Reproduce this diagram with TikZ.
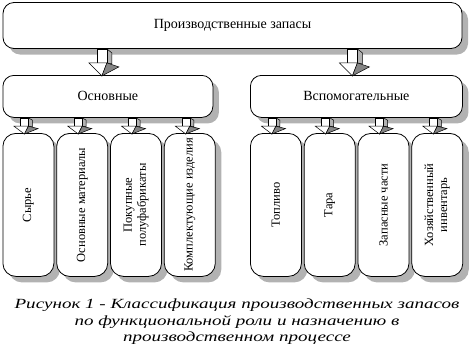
\documentclass[tikz,border=0pt]{standalone}
\usepackage{fontspec}
\setmainfont{Liberation Serif}
\usepackage{tikz}
\usetikzlibrary{positioning, shadows, calc}
\definecolor{ten}{RGB}{178,178,178}

\begin{document}
\begin{tikzpicture}[
  x=1pt, y=-1pt,
  blok/.style={
    rectangle, draw=black, fill=white, line width=0.8pt,
    rounded corners=11pt, font=\rmfamily\fontsize{14}{16}\selectfont,
    drop shadow={shadow xshift=6pt, shadow yshift=-6pt, fill=ten, opacity=1}
  },
  stolbec/.style={
    blok, rounded corners=13pt, inner sep=0pt,
    minimum width=51pt, minimum height=143pt,
    font=\rmfamily\fontsize{12.5}{14}\selectfont
  },
  podpis/.style={font=\rmfamily\fontsize{14}{16.5}\selectfont\itshape, align=center},
  strelka/.pic={
    \filldraw[fill=ten, line width=0.5pt] (5,0) -- (10,4) -- (10,15) -- (5,14) -- cycle;
    \filldraw[fill=white, line width=0.5pt] (-5,0) rectangle (5,14);
    \filldraw[fill=white, line width=0.5pt] (-13,14) -- (5,14) -- (0,27) -- cycle;
    \filldraw[fill=ten!75!black, line width=0.5pt] (5,14) -- (17,18) -- (0,27) -- cycle;
  }
]
\useasboundingbox (0,0) rectangle (474,354);

% ── УЗЛЫ ─────────────────────────────────────────────────────

\node[blok, minimum width=459pt, minimum height=46pt] (zapasy) at (232.5,25.5) {Производственные запасы};

\node[blok, minimum width=210pt, minimum height=42pt, anchor=north west] (osn) at (2.5,75) {Основные};
\node[blok, minimum width=212pt, minimum height=42pt, anchor=north west] (vsp) at (250,75) {Вспомогательные};

% основные
\node[stolbec, anchor=north west] (syre) at (2.5,133) {\rotatebox{90}{Сырье}};
\node[stolbec, right=2pt of syre] (osnmat) {\rotatebox{90}{Основные материалы}};
\node[stolbec, right=2pt of osnmat] (polufab) {\rotatebox{90}{%
  \begin{tabular}{@{}c@{}}
    Покупные \\
    полуфабрикаты
  \end{tabular}}};
\node[stolbec, right=2pt of polufab] (kompl) {\rotatebox{90}{Комплектующие изделия}};

% вспомогательные
\node[stolbec, anchor=north west] (toplivo) at (250,133) {\rotatebox{90}{Топливо}};
\node[stolbec, right=2pt of toplivo] (tara) {\rotatebox{90}{Тара}};
\node[stolbec, right=2pt of tara] (zapch) {\rotatebox{90}{Запасные части}};
\node[stolbec, right=2pt of zapch] (inventar) {\rotatebox{90}{%
  \begin{tabular}{@{}c@{}}
    Хозяйственный \\
    инвентарь
  \end{tabular}}};

\node[podpis] (podpis) at (237,322) {\scalebox{1.36}[1]{%
  \begin{tabular}{@{}c@{}}
    Рисунок 1 - Классификация производственных запасов \\
    по функциональной роли и назначению в \\
    производственном процессе
  \end{tabular}}};

% ── СТРЕЛКИ ──────────────────────────────────────────────────

% запасы -> основные / вспомогательные
\pic at ([xshift=-6pt]zapasy.south -| osn.north) {strelka};
\pic at ([xshift=-4pt]zapasy.south -| vsp.north) {strelka};
% основные -> столбцы
\pic[yscale=0.6, xscale=0.8] at ([xshift=-4pt]osn.south -| syre.north) {strelka};
\pic[yscale=0.6, xscale=0.8] at ([xshift=-4pt]osn.south -| osnmat.north) {strelka};
\pic[yscale=0.6, xscale=0.8] at ([xshift=-4pt]osn.south -| polufab.north) {strelka};
\pic[yscale=0.6, xscale=0.8] at ([xshift=-4pt]osn.south -| kompl.north) {strelka};
% вспомогательные -> столбцы
\pic[yscale=0.6, xscale=0.8] at ([xshift=-4pt]vsp.south -| toplivo.north) {strelka};
\pic[yscale=0.6, xscale=0.8] at ([xshift=-4pt]vsp.south -| tara.north) {strelka};
\pic[yscale=0.6, xscale=0.8] at ([xshift=-4pt]vsp.south -| zapch.north) {strelka};
\pic[yscale=0.6, xscale=0.8] at ([xshift=-4pt]vsp.south -| inventar.north) {strelka};

\end{tikzpicture}
\end{document}
